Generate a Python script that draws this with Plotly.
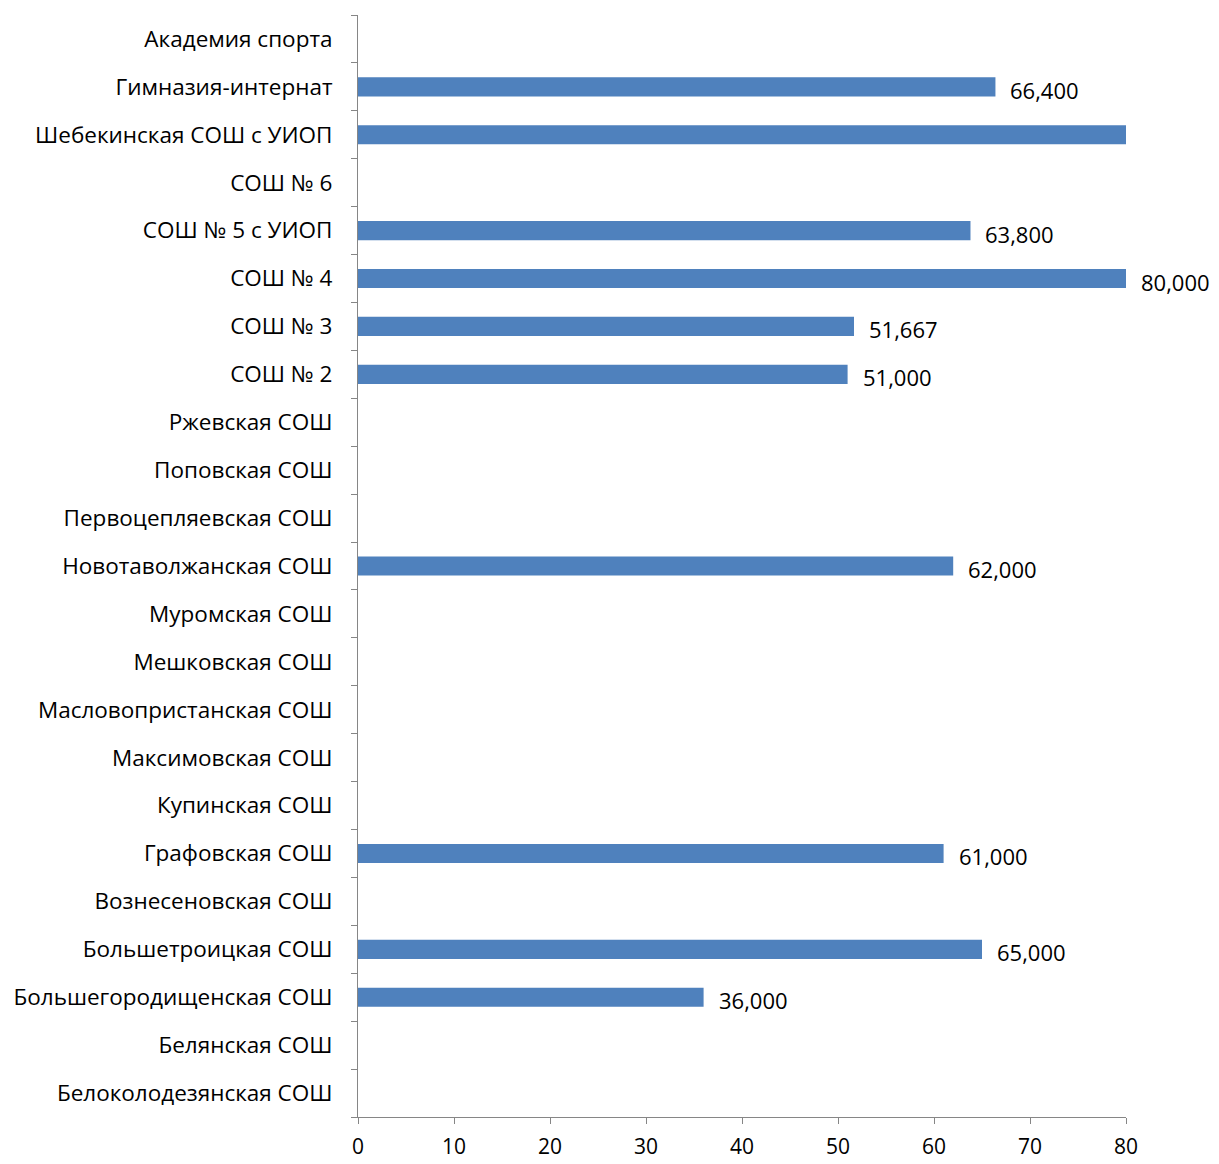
import plotly.graph_objects as go

categories = [
    "Белоколодезянская СОШ",
    "Белянская СОШ",
    "Большегородищенская СОШ",
    "Большетроицкая СОШ",
    "Вознесеновская СОШ",
    "Графовская СОШ",
    "Купинская СОШ",
    "Максимовская СОШ",
    "Масловопристанская СОШ",
    "Мешковская СОШ",
    "Муромская СОШ",
    "Новотаволжанская СОШ",
    "Первоцепляевская СОШ",
    "Поповская СОШ",
    "Ржевская СОШ",
    "СОШ № 2",
    "СОШ № 3",
    "СОШ № 4",
    "СОШ № 5 с УИОП",
    "СОШ № 6",
    "Шебекинская СОШ с УИОП",
    "Гимназия-интернат",
    "Академия спорта",
]
values = [None, None, 36.0, 65.0, None, 61.0, None, None, None, None, None, 62.0,
          None, None, None, 51.0, 51.667, 80.0, 63.8, None, 83.0, 66.4, None]
x_ticks = [0, 10, 20, 30, 40, 50, 60, 70, 80]

XMAX = 80
FONT = "Open Sans"
FSIZE = 22.5


def fmt(v):
    return f"{v:.3f}".replace(".", ",")


fig = go.Figure(go.Bar(
    y=categories,
    x=values,
    orientation="h",
    marker=dict(color="#4F81BD", line=dict(width=0)),
    hoverinfo="skip",
))

# data labels (hidden for values beyond the axis maximum, as in the original)
for cat, v in zip(categories, values):
    if v is None or v > XMAX:
        continue
    fig.add_annotation(
        x=v, y=cat, xref="x", yref="y",
        text=fmt(v), showarrow=False,
        xanchor="left", yanchor="middle",
        xshift=13, yshift=-3,
        font=dict(family=FONT, size=22, color="black"),
    )

fig.update_layout(
    width=1211,
    height=1156,
    margin=dict(l=350, r=93, t=7, b=47),
    paper_bgcolor="white",
    plot_bgcolor="white",
    bargap=0.6,
    showlegend=False,
    font=dict(family=FONT, size=FSIZE, color="black"),
)

fig.update_xaxes(
    range=[0, XMAX],
    tickvals=x_ticks,
    automargin=False,
    showgrid=False,
    zeroline=False,
    showline=True,
    linecolor="#868686",
    linewidth=1,
    ticks="outside",
    ticklen=6,
    tickcolor="#868686",
    ticklabelstandoff=5,
    tickfont=dict(family=FONT, size=21, color="black"),
)

fig.update_yaxes(
    categoryorder="array",
    categoryarray=categories,
    automargin=False,
    showgrid=False,
    zeroline=False,
    showline=True,
    linecolor="#868686",
    linewidth=1,
    ticks="outside",
    tickson="boundaries",
    ticklen=6,
    tickcolor="#868686",
    ticklabelstandoff=20,
    tickfont=dict(family=FONT, size=FSIZE, color="black"),
)

fig.write_html("out.html")
